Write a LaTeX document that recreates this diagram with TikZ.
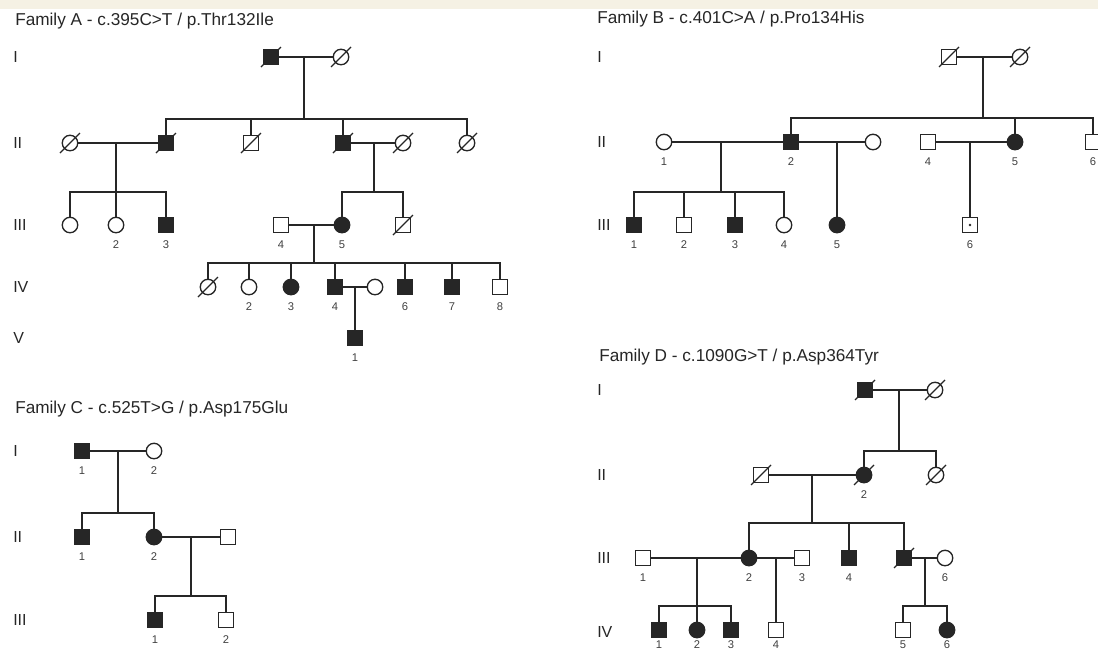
\documentclass[tikz,border=0pt]{standalone}
\usepackage{fontspec}
\setmainfont{Liberation Sans}
\usetikzlibrary{calc}

\definecolor{strip}{RGB}{245,241,228}
\colorlet{ink}{black!85}

\begin{document}
\begin{tikzpicture}[x=0.75pt, y=-0.75pt,
	ind/.style={draw=ink, line width=1pt, minimum size=11.6pt, inner sep=0pt},
	male/.style={ind, rectangle},
	female/.style={ind, circle},
	aff/.style={fill=ink},
	carrier/.style={path picture={\fill[ink] (path picture bounding box.center) circle (1pt);}},
	conn/.style={draw=ink, line width=1pt},
	gen/.style={font=\fontsize{12}{14}\selectfont, anchor=west, text=black!85, inner sep=0pt},
	fam/.style={font=\fontsize{12.9}{15}\selectfont, anchor=west, text=black!85, inner sep=0pt},
	every label/.style={font=\fontsize{8.4}{10}\selectfont, text=black!75, inner sep=1pt},
	label distance=4pt]
	
	\useasboundingbox (0,0) rectangle (1098,654);
	\fill[strip] (0,0) rectangle (1098,9);
	
	% ----- Family A (top left)
	\node[fam] (tA) at (15,21) {Family A - c.395C>T / p.Thr132Ile};
	\foreach \g/\y in {I/57,II/143,III/225,IV/287,V/338}
		\node[gen] (gA-\g) at (13,\y) {\g};
	
	% generation I
	\node[male,aff] (a1) at (271,57) {};
	\node[female] (a2) at (341,57) {};
	\draw[conn] (a1) -- (a2);
	\coordinate (mA1) at (304,57);
	\coordinate (sA1) at (304,119);
	\draw[conn] (mA1) -- (sA1);
	
	% generation II
	\node[female] (a3) at (70,143) {};
	\node[male,aff] (a4) at (166,143) {};
	\node[male] (a5) at (251,143) {};
	\node[male,aff] (a6) at (343,143) {};
	\node[female] (a7) at (403,143) {};
	\node[female] (a8) at (467,143) {};
	\foreach \who in {a4,a5,a6,a8}
		\draw[conn] (sA1) -| (\who);
	\draw[conn] (a3) -- (a4);
	\coordinate (mA2) at (116,143);
	\coordinate (sA2) at (116,192);
	\draw[conn] (mA2) -- (sA2);
	\draw[conn] (a6) -- (a7);
	\coordinate (mA3) at (374,143);
	\coordinate (sA3) at (374,192);
	\draw[conn] (mA3) -- (sA3);
	
	% generation III
	\node[female] (a9) at (70,225) {};
	\node[female,label=below:2] (a10) at (116,225) {};
	\node[male,aff,label=below:3] (a11) at (166,225) {};
	\foreach \who in {a9,a10,a11}
		\draw[conn] (sA2) -| (\who);
	\node[male,label=below:4] (a12) at (281,225) {};
	\node[female,aff,label=below:5] (a13) at (342,225) {};
	\node[male] (a14) at (403,225) {};
	\foreach \who in {a13,a14}
		\draw[conn] (sA3) -| (\who);
	\draw[conn] (a12) -- (a13);
	\coordinate (mA4) at (314,225);
	\coordinate (sA4) at (314,263);
	\draw[conn] (mA4) -- (sA4);
	
	% generation IV
	\node[female] (a15) at (208,287) {};
	\node[female,label=below:2] (a16) at (249,287) {};
	\node[female,aff,label=below:3] (a17) at (291,287) {};
	\node[male,aff,label=below:4] (a18) at (335,287) {};
	\node[female] (a19) at (375,287) {};
	\node[male,aff,label=below:6] (a20) at (405,287) {};
	\node[male,aff,label=below:7] (a21) at (452,287) {};
	\node[male,label=below:8] (a22) at (500,287) {};
	\foreach \who in {a15,a16,a17,a18,a20,a21,a22}
		\draw[conn] (sA4) -| (\who);
	\draw[conn] (a18) -- (a19);
	\coordinate (mA5) at (355,287);
	
	% generation V
	\node[male,aff,label=below:1] (a23) at (355,338) {};
	\draw[conn] (mA5) -- (a23);
	
	\foreach \who in {a1,a2,a3,a4,a5,a6,a7,a8,a14,a15}
		\draw[conn] (\who.center) ++(-10,10) -- ++(20,-20);
	
	% ----- Family B (top right)
	\node[fam] (tB) at (597,19) {Family B - c.401C>A / p.Pro134His};
	\foreach \g/\y in {I/57,II/142,III/225}
		\node[gen] (gB-\g) at (597,\y) {\g};
	
	\node[male] (b1) at (949,57) {};
	\node[female] (b2) at (1020,57) {};
	\draw[conn] (b1) -- (b2);
	\coordinate (mB1) at (983,57);
	\coordinate (sB1) at (983,118);
	\draw[conn] (mB1) -- (sB1);
	
	\node[female,label=below:1] (b3) at (664,142) {};
	\node[male,aff,label=below:2] (b4) at (791,142) {};
	\node[female] (b5) at (873,142) {};
	\node[male,label=below:4] (b6) at (928,142) {};
	\node[female,aff,label=below:5] (b7) at (1015,142) {};
	\node[male,label=below:6] (b8) at (1093,142) {};
	\foreach \who in {b4,b7,b8}
		\draw[conn] (sB1) -| (\who);
	\draw[conn] (b3) -- (b4);
	\draw[conn] (b4) -- (b5);
	\draw[conn] (b6) -- (b7);
	\coordinate (mB2) at (721,142);
	\coordinate (sB2) at (721,192);
	\draw[conn] (mB2) -- (sB2);
	\coordinate (mB3) at (837,142);
	\coordinate (mB4) at (970,142);
	
	\node[male,aff,label=below:1] (b9) at (634,225) {};
	\node[male,label=below:2] (b10) at (684,225) {};
	\node[male,aff,label=below:3] (b11) at (735,225) {};
	\node[female,label=below:4] (b12) at (784,225) {};
	\foreach \who in {b9,b10,b11,b12}
		\draw[conn] (sB2) -| (\who);
	\node[female,aff,label=below:5] (b13) at (837,225) {};
	\draw[conn] (mB3) -- (b13);
	\node[male,carrier,label=below:6] (b14) at (970,225) {};
	\draw[conn] (mB4) -- (b14);
	
	\foreach \who in {b1,b2}
		\draw[conn] (\who.center) ++(-10,10) -- ++(20,-20);
	
	% ----- Family C (bottom left)
	\node[fam] (tC) at (15,409) {Family C - c.525T>G / p.Asp175Glu};
	\foreach \g/\y in {I/451,II/537,III/620}
		\node[gen] (gC-\g) at (13,\y) {\g};
	
	\node[male,aff,label=below:1] (c1) at (82,451) {};
	\node[female,label=below:2] (c2) at (154,451) {};
	\draw[conn] (c1) -- (c2);
	\coordinate (mC1) at (118,451);
	\coordinate (sC1) at (118,513);
	\draw[conn] (mC1) -- (sC1);
	
	\node[male,aff,label=below:1] (c3) at (82,537) {};
	\node[female,aff,label=below:2] (c4) at (154,537) {};
	\node[male] (c5) at (228,537) {};
	\foreach \who in {c3,c4}
		\draw[conn] (sC1) -| (\who);
	\draw[conn] (c4) -- (c5);
	\coordinate (mC2) at (191,537);
	\coordinate (sC2) at (191,596);
	\draw[conn] (mC2) -- (sC2);
	
	\node[male,aff,label=below:1] (c6) at (155,620) {};
	\node[male,label=below:2] (c7) at (226,620) {};
	\foreach \who in {c6,c7}
		\draw[conn] (sC2) -| (\who);
	
	% ----- Family D (bottom right)
	\node[fam] (tD) at (599,357) {Family D - c.1090G>T / p.Asp364Tyr};
	\foreach \g/\y in {I/390,II/475,III/558,IV/632}
		\node[gen] (gD-\g) at (597,\y) {\g};
	
	\node[male,aff] (d1) at (865,390) {};
	\node[female] (d2) at (935,390) {};
	\draw[conn] (d1) -- (d2);
	\coordinate (mD1) at (899,390);
	\coordinate (sD1) at (899,451);
	\draw[conn] (mD1) -- (sD1);
	
	\node[male] (d3) at (761,475) {};
	\node[female,aff,label=below:2] (d4) at (864,475) {};
	\node[female] (d5) at (936,475) {};
	\foreach \who in {d4,d5}
		\draw[conn] (sD1) -| (\who);
	\draw[conn] (d3) -- (d4);
	\coordinate (mD2) at (812,475);
	\coordinate (sD2) at (812,523);
	\draw[conn] (mD2) -- (sD2);
	
	\node[male,label=below:1] (d6) at (643,558) {};
	\node[female,aff,label=below:2] (d7) at (749,558) {};
	\node[male,label=below:3] (d8) at (802,558) {};
	\node[male,aff,label=below:4] (d9) at (849,558) {};
	\node[male,aff] (d10) at (904,558) {};
	\node[female,label=below:6] (d11) at (945,558) {};
	\foreach \who in {d7,d9,d10}
		\draw[conn] (sD2) -| (\who);
	\draw[conn] (d6) -- (d7);
	\draw[conn] (d7) -- (d8);
	\draw[conn] (d10) -- (d11);
	\coordinate (mD3) at (697,558);
	\coordinate (sD3) at (697,606);
	\draw[conn] (mD3) -- (sD3);
	\coordinate (mD4) at (776,558);
	\coordinate (mD5) at (925,558);
	\coordinate (sD5) at (925,606);
	\draw[conn] (mD5) -- (sD5);
	
	% last row sits close to the lower edge
	\begin{scope}[label distance=0.5pt]
		\node[male,aff,label=below:1] (d12) at (659,630) {};
		\node[female,aff,label=below:2] (d13) at (697,630) {};
		\node[male,aff,label=below:3] (d14) at (731,630) {};
		\node[male,label=below:4] (d15) at (776,630) {};
		\node[male,label=below:5] (d16) at (903,630) {};
		\node[female,aff,label=below:6] (d17) at (947,630) {};
	\end{scope}
	\foreach \who in {d12,d13,d14}
		\draw[conn] (sD3) -| (\who);
	\draw[conn] (mD4) -- (d15);
	\foreach \who in {d16,d17}
		\draw[conn] (sD5) -| (\who);
	
	\foreach \who in {d1,d2,d3,d4,d5,d10}
		\draw[conn] (\who.center) ++(-10,10) -- ++(20,-20);
	
\end{tikzpicture}
\end{document}
